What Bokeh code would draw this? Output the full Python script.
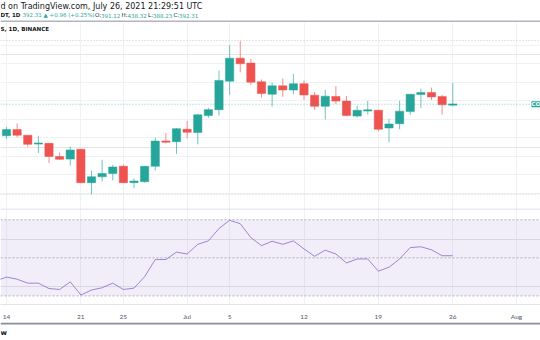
from datetime import date
from bokeh.plotting import figure
from bokeh.models import Range1d, FixedTicker, Span, BoxAnnotation, Label, ColumnDataSource, Grid
from bokeh.layouts import column
from bokeh.embed import file_html
from bokeh.resources import INLINE

# ---------------- data ----------------
dates = ["2021-06-14", "2021-06-15", "2021-06-16", "2021-06-17", "2021-06-18", "2021-06-19",
         "2021-06-20", "2021-06-21", "2021-06-22", "2021-06-23", "2021-06-24", "2021-06-25",
         "2021-06-26", "2021-06-27", "2021-06-28", "2021-06-29", "2021-06-30", "2021-07-01",
         "2021-07-02", "2021-07-03", "2021-07-04", "2021-07-05", "2021-07-06", "2021-07-07",
         "2021-07-08", "2021-07-09", "2021-07-10", "2021-07-11", "2021-07-12", "2021-07-13",
         "2021-07-14", "2021-07-15", "2021-07-16", "2021-07-17", "2021-07-18", "2021-07-19",
         "2021-07-20", "2021-07-21", "2021-07-22", "2021-07-23", "2021-07-24", "2021-07-25",
         "2021-07-26"]
opens = [324.3, 337.6, 325.5, 307.3, 307.9, 279.7, 274.0, 295.2, 223.1, 235.9, 242.8, 258.5,
         223.1, 225.2, 258.5, 312.8, 311.5, 338.2, 331.2, 367.9, 380.7, 442.1, 491.7, 481.1,
         440.9, 413.9, 432.0, 423.0, 436.6, 411.8, 387.8, 409.1, 399.1, 366.7, 378.5, 379.4,
         341.2, 350.3, 376.4, 413.3, 417.5, 409.1, 391.12]
highs = [342.9, 351.0, 325.9, 324.3, 308.5, 288.2, 300.9, 296.3, 249.2, 272.5, 261.9, 261.9,
         232.2, 259.2, 320.7, 330.6, 340.8, 356.0, 371.5, 384.2, 464.8, 519.9, 529.1, 490.2,
         445.7, 440.0, 447.9, 457.8, 443.6, 418.8, 423.9, 431.5, 410.3, 389.1, 399.7, 380.0,
         360.9, 399.7, 414.5, 426.0, 428.1, 412.4, 438.32]
lows = [317.5, 320.7, 300.9, 287.3, 265.5, 272.5, 259.8, 222.1, 197.0, 225.3, 228.0, 222.1,
        211.0, 223.1, 249.2, 307.9, 285.3, 318.5, 305.8, 362.4, 367.9, 412.4, 461.2, 433.6,
        406.9, 387.0, 408.2, 413.9, 401.8, 380.0, 359.5, 392.7, 366.7, 363.7, 370.0, 334.0,
        310.0, 338.2, 369.4, 384.2, 401.2, 370.0, 388.23]
closes = [337.6, 325.5, 305.8, 307.9, 279.7, 273.4, 293.7, 223.1, 235.9, 242.8, 257.0, 223.1,
          226.7, 258.5, 312.8, 310.7, 339.7, 331.9, 369.4, 380.7, 443.6, 491.7, 479.6, 440.0,
          415.4, 432.0, 423.0, 436.6, 412.4, 387.8, 409.7, 399.1, 367.9, 379.4, 379.4, 338.2,
          349.7, 377.3, 413.9, 417.5, 408.2, 391.2, 392.31]

rsi_dates = ["2021-06-13"] + dates
rsi_values = [37.9, 39.9, 38.8, 36.7, 36.7, 33.9, 33.4, 37.4, 30.5, 33.1, 34.3, 36.7, 33.4,
              34.1, 40.1, 49.1, 49.1, 53.0, 52.0, 57.1, 58.9, 65.4, 69.7, 67.9, 60.6, 56.4,
              58.7, 57.1, 58.9, 54.7, 50.8, 54.0, 52.0, 47.3, 49.4, 49.4, 43.0, 45.1, 49.4,
              55.4, 55.8, 54.2, 51.1, 51.1]
rsi_levels = [70, 50, 30]

tick_dates = ["2021-06-14", "2021-06-21", "2021-06-25", "2021-07-01", "2021-07-05",
              "2021-07-12", "2021-07-19", "2021-07-26", "2021-08-01"]
tick_labels = ["14", "21", "25", "Jul", "5", "12", "19", "26", "Aug"]
price_grid = [200, 240, 280, 320, 360, 400, 440, 480, 520]
dotted_levels = [530, 198]
last_close = 392.31

# ---------------- helpers ----------------
D0 = date(2021, 6, 14)
def dnum(s):
    y, m, d = map(int, s.split("-"))
    return (date(y, m, d) - D0).days

UP, DOWN = "#26a69a", "#ef5350"
FONT = "DejaVu Sans"
DARK = "#131722"

PX0, PXD = 6.0, 10.625
def px_day(x):
    return (x - PX0) / PXD
def px_price(y):
    return last_close + (105.2 - y) * 2.12
def px_rsi(y):
    return 50 + (261.5 - y) / 1.94

# approximate advance widths (em) used to lay out the legend line
W_NORMAL = {".": .318, ",": .318, ":": .337, " ": .318, "(": .390, ")": .390, "+": .838,
            "%": .950, "▲": .770, "O": .787, "H": .752, "L": .557, "C": .698}
W_BOLD = {"D": .830, "T": .682, ",": .380, " ": .348, "1": .696}
def text_w(t, size, bold=False):
    tab = W_BOLD if bold else W_NORMAL
    return sum(tab.get(ch, .636 if ch.isdigit() else .62) for ch in t) * size

TOP, FRAME_BOTTOM, MAIN_BOTTOM = 22, 309, 322

# ---------------- header ----------------
hdr = figure(width=540, height=TOP, x_range=Range1d(0, 540), y_range=Range1d(0, TOP),
             output_backend="svg", toolbar_location=None, x_axis_location=None,
             y_axis_location=None, min_border=0, outline_line_color=None)
hdr.grid.visible = False
hdr.add_layout(Span(location=1, dimension="width", line_color="#b2b5be", line_width=2))
hdr.add_layout(Label(x=0, y=TOP - 6, text="d on TradingView.com, July 26, 2021 21:29:51 UTC",
                     text_font=FONT, text_font_size="8px", text_color=DARK,
                     text_baseline="middle"))
LS_POS, LS = 5.4, 5.5
segs = [("DT, 1D", DARK, True), (" ", DARK, False), ("392.31 ▲ +0.96 (+0.25%)", UP, False),
        (" ", DARK, False), ("O:", DARK, False), ("391.12", UP, False),
        (" ", DARK, False), ("H:", DARK, False), ("438.32", UP, False),
        (" ", DARK, False), ("L:", DARK, False), ("388.23", UP, False),
        (" ", DARK, False), ("C:", DARK, False), ("392.31", UP, False)]
xcur = 0.0
for t, c, b in segs:
    if t.strip():
        hdr.add_layout(Label(x=xcur, y=TOP - 14.7, text=t, text_font=FONT,
                             text_font_size=f"{LS}px", text_color=c,
                             text_font_style="bold" if b else "normal", text_baseline="middle"))
    xcur += text_w(t, LS_POS, b)

# ---------------- main (price + RSI) ----------------
x_range = Range1d(px_day(0), px_day(540))
y_range = Range1d(px_price(FRAME_BOTTOM), px_price(TOP))
p = figure(width=540, height=MAIN_BOTTOM - TOP, x_range=x_range, y_range=y_range,
           output_backend="svg", toolbar_location=None, y_axis_location=None,
           min_border_left=0, min_border_right=0, min_border_top=0,
           min_border_bottom=MAIN_BOTTOM - FRAME_BOTTOM, outline_line_color=None,
           background_fill_color="white")
p.extra_y_ranges = {"rsi": Range1d(px_rsi(FRAME_BOTTOM), px_rsi(TOP))}

tick_pos = [dnum(s) for s in tick_dates]
p.xgrid.ticker = FixedTicker(ticks=tick_pos)
p.xgrid.grid_line_color = "#eff1f5"
p.add_layout(Grid(dimension=1, ticker=FixedTicker(ticks=price_grid), grid_line_color="#eff1f5"))

ax = p.xaxis[0]
ax.ticker = FixedTicker(ticks=tick_pos)
ax.major_label_overrides = {t: l for t, l in zip(tick_pos, tick_labels)}
ax.axis_line_color = "#e0e3eb"
ax.major_tick_line_color = None
ax.minor_tick_line_color = None
ax.major_label_standoff = 2
ax.major_label_text_font = "Lato"
ax.major_label_text_font_size = "6.5px"
ax.major_label_text_color = "#50535e"

p.add_layout(Span(location=px_price(212), dimension="width", line_color="#e0e3eb", line_width=1))
for lv in dotted_levels:
    p.add_layout(Span(location=lv, dimension="width", line_color="#c8cad0",
                      line_dash="1 2", line_width=1))

# candles
xs = [dnum(s) for s in dates]
col = [UP if c >= o else DOWN for o, c in zip(opens, closes)]
MINB = 2.6
tops, bots = [], []
for o, c in zip(opens, closes):
    hi, lo = max(o, c), min(o, c)
    if hi - lo < MINB:
        m = (hi + lo) / 2
        hi, lo = m + MINB / 2, m - MINB / 2
    tops.append(hi)
    bots.append(lo)
src = ColumnDataSource(dict(x=xs, o=opens, h=highs, l=lows, c=closes, top=tops, bot=bots, col=col))
p.segment(x0="x", y0="l", x1="x", y1="h", color="col", line_width=1, line_alpha=0.65, source=src)
p.vbar(x="x", width=0.78, top="top", bottom="bot", fill_color="col", line_color="col",
       line_width=0.5, source=src)

p.add_layout(Span(location=last_close, dimension="width", line_color=UP, line_alpha=0.55,
                  line_dash="1 2", line_width=1))
p.add_layout(Label(x=px_day(531), y=last_close, text="CO", text_font=FONT,
                   text_font_size="5.5px", text_color="white", text_baseline="middle",
                   background_fill_color=UP, text_font_style="bold"))
p.add_layout(Label(x=px_day(0), y=px_price(29), text="S, 1D, BINANCE", text_font=FONT,
                   text_font_size="5.6px", text_color=DARK, text_font_style="bold",
                   text_baseline="middle"))

# RSI pane
p.add_layout(BoxAnnotation(bottom=30, top=70, y_range_name="rsi", fill_color="#7e57c2",
                           fill_alpha=0.1, line_alpha=0))
for lv in rsi_levels:
    p.add_layout(Span(location=lv, dimension="width", y_range_name="rsi", line_color="#787b86",
                      line_alpha=0.55, line_dash="2 2", line_width=1))
p.line([dnum(s) for s in rsi_dates], rsi_values, y_range_name="rsi", line_color="#7e57c2",
       line_alpha=0.7, line_width=1)

# ---------------- footer ----------------
ft = figure(width=540, height=340 - MAIN_BOTTOM, x_range=Range1d(0, 540),
            y_range=Range1d(0, 340 - MAIN_BOTTOM), output_backend="svg", toolbar_location=None,
            x_axis_location=None, y_axis_location=None, min_border=0, outline_line_color=None)
ft.grid.visible = False
ft.add_layout(Span(location=340 - MAIN_BOTTOM - 1, dimension="width", line_color="#8a8d96",
                   line_width=2))
ft.add_layout(Label(x=0, y=340 - 332, text="w", text_font=FONT, text_font_size="7px",
                    text_color=DARK, text_font_style="bold", text_baseline="middle"))

layout = column(hdr, p, ft, spacing=0)
open("out.html", "w").write(file_html(layout, INLINE))
